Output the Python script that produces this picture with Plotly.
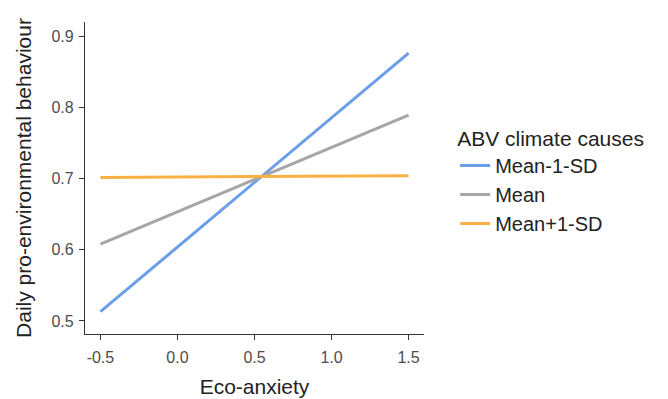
import plotly.graph_objects as go

x_vals = [-0.5, 1.5]
series_names = ["Mean-1-SD", "Mean", "Mean+1-SD"]
y_low = [0.513, 0.876]
y_mean = [0.608, 0.789]
y_high = [0.7015, 0.704]
colors = ["#6a9ee8", "#a6a6a6", "#fab042"]
x_ticks = [-0.5, 0.0, 0.5, 1.0, 1.5]
x_tick_labels = ["-0.5", "0.0", "0.5", "1.0", "1.5"]
y_ticks = [0.5, 0.6, 0.7, 0.8, 0.9]
y_tick_labels = ["0.5", "0.6", "0.7", "0.8", "0.9"]

fig = go.Figure()
for name, ys, c in zip(series_names, [y_low, y_mean, y_high], colors):
    fig.add_trace(go.Scatter(x=x_vals, y=ys, mode="lines", name=name,
                             line=dict(color=c, width=3)))

axis_common = dict(showgrid=False, zeroline=False, showline=True, linecolor="#333333",
                   linewidth=1.2, ticks="outside", ticklen=5, tickcolor="#333333",
                   tickfont=dict(size=16, color="#4d4d4d"), automargin=False)
# page body has an 8px margin, so offsets compensate for it
fig.update_layout(
    width=668, height=399,
    margin=dict(l=77, r=252, t=14, b=73),
    paper_bgcolor="white", plot_bgcolor="white",
    font=dict(family="Liberation Sans, Arial, sans-serif", color="#222222"),
    xaxis=dict(range=[-0.6, 1.6], tickvals=x_ticks, ticktext=x_tick_labels,
               ticklabelstandoff=4,
               title=dict(text="Eco-anxiety", font=dict(size=21), standoff=14), **axis_common),
    yaxis=dict(range=[0.4817, 0.9197], tickvals=y_ticks, ticktext=y_tick_labels,
               ticklabelstandoff=2,
               title=dict(text="Daily pro-environmental behaviour", font=dict(size=21), standoff=14),
               **axis_common),
    legend=dict(title=dict(text="ABV climate causes", font=dict(size=21)),
                font=dict(size=20), x=1.092, y=0.69, xanchor="left", yanchor="top",
                tracegroupgap=0, itemwidth=30),
    showlegend=True,
)
fig.write_html("out.html")
